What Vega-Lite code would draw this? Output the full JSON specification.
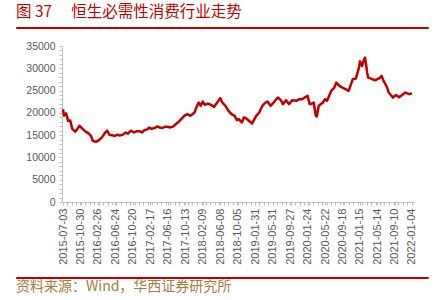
{
  "$schema": "https://vega.github.io/schema/vega-lite/v6.json",
  "padding": {"left": 15, "top": 4, "right": 5, "bottom": 4},
  "config": {"view": {"stroke": null}, "font": "Liberation Sans"},
  "datasets": {
    "series": [
      {"date":"2015-07-03","value":20800},{"date":"2015-07-10","value":19400},{"date":"2015-07-24","value":19900},
      {"date":"2015-08-07","value":18200},{"date":"2015-08-21","value":18300},{"date":"2015-09-04","value":16400},
      {"date":"2015-09-18","value":16000},{"date":"2015-09-25","value":15800},{"date":"2015-10-09","value":16400},
      {"date":"2015-10-23","value":17100},{"date":"2015-11-13","value":16400},{"date":"2015-12-04","value":15800},
      {"date":"2015-12-24","value":15400},{"date":"2016-01-08","value":14900},{"date":"2016-01-22","value":13750},
      {"date":"2016-02-12","value":13500},{"date":"2016-03-04","value":13900},{"date":"2016-03-24","value":14500},
      {"date":"2016-04-15","value":15600},{"date":"2016-04-29","value":16000},{"date":"2016-05-13","value":15100},
      {"date":"2016-06-03","value":15000},{"date":"2016-06-17","value":14800},{"date":"2016-07-08","value":15100},
      {"date":"2016-07-22","value":14900},{"date":"2016-08-12","value":15100},{"date":"2016-09-02","value":15600},
      {"date":"2016-09-16","value":15300},{"date":"2016-10-07","value":16000},{"date":"2016-10-28","value":15600},
      {"date":"2016-11-18","value":15900},{"date":"2016-12-02","value":15900},{"date":"2016-12-23","value":15600},
      {"date":"2017-01-06","value":16100},{"date":"2017-01-27","value":16300},{"date":"2017-02-10","value":16700},
      {"date":"2017-02-24","value":16400},{"date":"2017-03-17","value":16600},{"date":"2017-04-07","value":16950},
      {"date":"2017-04-21","value":16700},{"date":"2017-05-12","value":16600},{"date":"2017-05-26","value":16900},
      {"date":"2017-06-16","value":16900},{"date":"2017-06-30","value":16700},{"date":"2017-07-21","value":16900},
      {"date":"2017-08-11","value":17500},{"date":"2017-09-01","value":18100},{"date":"2017-09-15","value":18600},
      {"date":"2017-10-06","value":19340},{"date":"2017-10-27","value":19720},{"date":"2017-11-17","value":19340},
      {"date":"2017-12-15","value":20080},{"date":"2017-12-29","value":21350},{"date":"2018-01-12","value":22320},
      {"date":"2018-01-26","value":21580},{"date":"2018-02-09","value":22540},{"date":"2018-02-23","value":21800},
      {"date":"2018-03-16","value":22090},{"date":"2018-04-06","value":21800},{"date":"2018-04-27","value":21350},
      {"date":"2018-05-18","value":22320},{"date":"2018-06-08","value":23300},{"date":"2018-06-22","value":22320},
      {"date":"2018-07-13","value":21580},{"date":"2018-08-03","value":20460},{"date":"2018-08-24","value":19720},
      {"date":"2018-09-14","value":19340},{"date":"2018-09-28","value":18380},{"date":"2018-10-12","value":18600},
      {"date":"2018-11-02","value":17840},{"date":"2018-11-16","value":18960},{"date":"2018-11-30","value":18800},
      {"date":"2018-12-21","value":18220},{"date":"2019-01-11","value":17620},{"date":"2019-02-08","value":19340},
      {"date":"2019-03-01","value":20080},{"date":"2019-03-22","value":21580},{"date":"2019-04-12","value":22320},
      {"date":"2019-04-26","value":22540},{"date":"2019-05-17","value":21580},{"date":"2019-06-07","value":22320},
      {"date":"2019-07-05","value":23430},{"date":"2019-07-26","value":22850},{"date":"2019-08-09","value":21960},
      {"date":"2019-08-30","value":22850},{"date":"2019-09-20","value":21960},{"date":"2019-10-11","value":22850},
      {"date":"2019-11-08","value":22700},{"date":"2019-11-29","value":23080},{"date":"2019-12-20","value":23080},
      {"date":"2020-01-03","value":23430},{"date":"2020-01-24","value":23810},{"date":"2020-02-07","value":21960},
      {"date":"2020-02-14","value":21960},{"date":"2020-03-06","value":22320},{"date":"2020-03-20","value":19340},
      {"date":"2020-03-27","value":19200},{"date":"2020-04-09","value":21580},{"date":"2020-05-08","value":22320},
      {"date":"2020-05-22","value":23080},{"date":"2020-06-05","value":22700},{"date":"2020-07-03","value":24930},
      {"date":"2020-07-24","value":25670},{"date":"2020-08-07","value":26790},{"date":"2020-08-28","value":26050},
      {"date":"2020-09-18","value":25670},{"date":"2020-10-09","value":25310},{"date":"2020-10-30","value":24930},
      {"date":"2020-11-27","value":27550},{"date":"2020-12-18","value":27700},{"date":"2021-01-08","value":30140},
      {"date":"2021-01-15","value":31600},{"date":"2021-01-29","value":30500},{"date":"2021-02-12","value":32000},
      {"date":"2021-02-19","value":32400},{"date":"2021-03-05","value":29000},{"date":"2021-03-12","value":27900},
      {"date":"2021-04-09","value":27550},{"date":"2021-04-30","value":27320},{"date":"2021-05-28","value":27770},
      {"date":"2021-06-11","value":28290},{"date":"2021-06-25","value":27170},{"date":"2021-07-16","value":25900},
      {"date":"2021-07-30","value":24550},{"date":"2021-08-27","value":23430},{"date":"2021-09-17","value":24000},
      {"date":"2021-10-08","value":23500},{"date":"2021-10-29","value":24000},{"date":"2021-11-19","value":24550},
      {"date":"2021-12-17","value":24190},{"date":"2022-01-04","value":24400}
    ]
  },
  "spacing": 11,
  "vconcat": [
    {
      "spacing": 12,
      "vconcat": [
        {
          "width": 412,
          "height": 1,
          "data": {"values": []},
          "mark": {"type": "rule"},
          "encoding": {},
          "view": {"stroke": "#c00000", "strokeWidth": 1},
          "title": {
            "text": "图 37\u3000\u00a0恒生必需性消费行业走势",
            "anchor": "start",
            "color": "#c00000",
            "font": "Noto Sans CJK SC",
            "fontSize": 15.5,
            "fontWeight": "normal",
            "offset": 7
          }
        },
        {
          "spacing": 8,
          "hconcat": [
            {"width": 1, "height": 1, "data": {"values": []}, "mark": {"type": "rule"}, "encoding": {}},
            {
              "width": 352,
              "height": 156,
              "data": {"name": "series"},
              "layer": [
                {
                  "mark": {"type": "line", "color": "#c00000", "strokeWidth": 2.5, "strokeJoin": "round"},
                  "encoding": {
                    "x": {
                      "field": "date",
                      "type": "temporal",
                      "scale": {
                        "type": "utc",
                        "domain": [
                          {"year": 2015, "month": 6, "date": 26, "utc": true},
                          {"year": 2022, "month": 1, "date": 18, "utc": true}
                        ]
                      },
                      "axis": {
                        "orient": "bottom",
                        "values": [
                          {"year": 2015, "month": 7, "date": 3, "utc": true},
                          {"year": 2015, "month": 10, "date": 30, "utc": true},
                          {"year": 2016, "month": 2, "date": 26, "utc": true},
                          {"year": 2016, "month": 6, "date": 24, "utc": true},
                          {"year": 2016, "month": 10, "date": 20, "utc": true},
                          {"year": 2017, "month": 2, "date": 17, "utc": true},
                          {"year": 2017, "month": 6, "date": 16, "utc": true},
                          {"year": 2017, "month": 10, "date": 13, "utc": true},
                          {"year": 2018, "month": 2, "date": 9, "utc": true},
                          {"year": 2018, "month": 6, "date": 8, "utc": true},
                          {"year": 2018, "month": 10, "date": 5, "utc": true},
                          {"year": 2019, "month": 1, "date": 31, "utc": true},
                          {"year": 2019, "month": 5, "date": 31, "utc": true},
                          {"year": 2019, "month": 9, "date": 27, "utc": true},
                          {"year": 2020, "month": 1, "date": 24, "utc": true},
                          {"year": 2020, "month": 5, "date": 22, "utc": true},
                          {"year": 2020, "month": 9, "date": 18, "utc": true},
                          {"year": 2021, "month": 1, "date": 15, "utc": true},
                          {"year": 2021, "month": 5, "date": 14, "utc": true},
                          {"year": 2021, "month": 9, "date": 10, "utc": true},
                          {"year": 2022, "month": 1, "date": 4, "utc": true}
                        ],
                        "format": "%Y-%m-%d",
                        "labelAngle": 270,
                        "labelFontSize": 11,
                        "labelColor": "#595959",
                        "labelPadding": 3,
                        "labelOverlap": false,
                        "labelFlush": false,
                        "tickSize": 3,
                        "tickColor": "#bfbfbf",
                        "domainColor": "#bfbfbf",
                        "grid": false,
                        "title": null
                      }
                    },
                    "y": {
                      "field": "value",
                      "type": "quantitative",
                      "scale": {"domain": [0, 35000], "nice": false},
                      "axis": {
                        "values": [0,1000,2000,3000,4000,5000,6000,7000,8000,9000,10000,11000,12000,13000,14000,15000,16000,17000,18000,19000,20000,21000,22000,23000,24000,25000,26000,27000,28000,29000,30000,31000,32000,33000,34000,35000],
                        "labelExpr": "datum.value % 5000 === 0 ? datum.label : ''",
                        "format": "d",
                        "labelFontSize": 10.5,
                        "labelColor": "#595959",
                        "labelPadding": 4,
                        "labelOverlap": false,
                        "labelFlush": false,
                        "tickSize": 3,
                        "tickColor": "#bfbfbf",
                        "domainColor": "#bfbfbf",
                        "grid": false,
                        "title": null
                      }
                    }
                  }
                },
                {
                  "mark": {"type": "line", "opacity": 0},
                  "encoding": {
                    "x": {
                      "field": "date",
                      "type": "temporal",
                      "axis": {
                        "orient": "bottom",
                        "tickCount": {"interval": "month", "step": 1},
                        "labels": false,
                        "domain": false,
                        "tickSize": 3,
                        "tickColor": "#bfbfbf",
                        "grid": false,
                        "title": null
                      }
                    },
                    "y": {"field": "value", "type": "quantitative", "axis": null}
                  }
                }
              ],
              "resolve": {"axis": {"x": "independent", "y": "independent"}}
            }
          ]
        }
      ]
    },
    {
      "width": 412,
      "height": 1,
      "data": {"values": []},
      "mark": {"type": "rule"},
      "encoding": {},
      "view": {"stroke": "#c00000", "strokeWidth": 1},
      "title": {
        "text": "资料来源：Wind，华西证券研究所",
        "orient": "bottom",
        "anchor": "start",
        "color": "#a67c3d",
        "font": "Noto Sans CJK SC",
        "fontSize": 14,
        "fontWeight": "normal",
        "offset": 2
      }
    }
  ]
}
